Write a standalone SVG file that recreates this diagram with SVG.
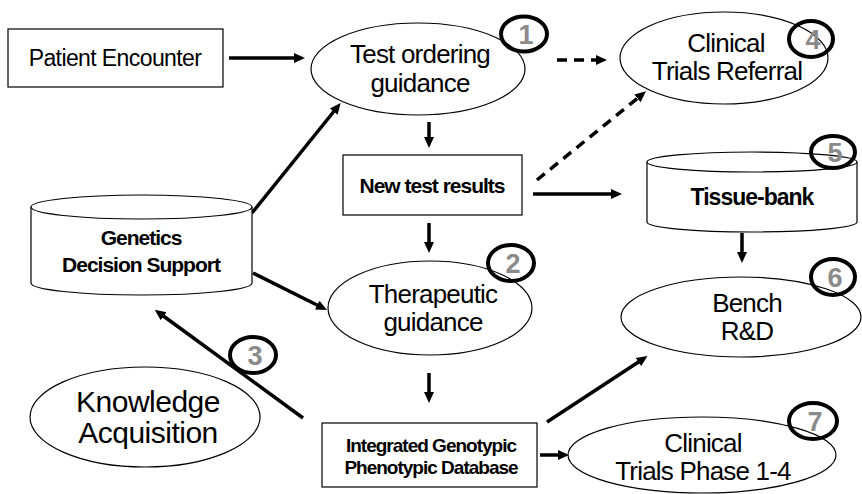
<svg xmlns="http://www.w3.org/2000/svg" width="862" height="494" viewBox="0 0 862 494">
  <style>
    .shape { fill: #ffffff; stroke: #000000; stroke-width: 1.2; }
    .lbl { font-family: "Liberation Sans", Arial, sans-serif; fill: #000000; text-anchor: middle; }
    .big { font-size: 26px; letter-spacing: -0.8px; }
    .bold { font-weight: bold; letter-spacing: -1px; }
    .edge { stroke: #000000; stroke-width: 3.5; fill: none; marker-end: url(#head); }
    .dash { stroke-dasharray: 10 7; }
    .badge ellipse { fill: none; stroke: #000000; stroke-width: 4; }
    .badge text { font-family: "Liberation Sans", Arial, sans-serif; font-weight: bold; font-size: 27px; fill: #8a8a8a; text-anchor: middle; }
  </style>
  <defs>
    <marker id="head" markerUnits="userSpaceOnUse" markerWidth="12" markerHeight="12" viewBox="0 0 12 12" refX="2" refY="6" orient="auto">
      <path d="M0,1 L11,6 L0,11 z" fill="#000000"/>
    </marker>
  </defs>
  <rect width="862" height="494" fill="#ffffff"/>

  <!-- connectors -->
  <g id="connectors">
    <line class="edge" x1="229" y1="58" x2="296" y2="58"/>
    <line class="edge dash" x1="557" y1="60" x2="598" y2="60"/>
    <line class="edge" x1="429" y1="122" x2="429" y2="139"/>
    <line class="edge dash" x1="537" y1="180" x2="639" y2="97"/>
    <line class="edge" x1="533" y1="194" x2="613" y2="194"/>
    <line class="edge" x1="742" y1="233" x2="742" y2="254"/>
    <line class="edge" x1="252" y1="213" x2="335" y2="110"/>
    <line class="edge" x1="253" y1="273" x2="319" y2="306"/>
    <line class="edge" x1="429" y1="223" x2="429" y2="244"/>
    <line class="edge" x1="429" y1="373" x2="429" y2="394"/>
    <line class="edge" x1="540" y1="455" x2="560" y2="455"/>
    <line class="edge" x1="547" y1="422" x2="640" y2="361"/>
    <line class="edge" x1="303" y1="418" x2="162" y2="315"/>
  </g>

  <g id="patient-encounter">
    <rect class="shape" x="8" y="29" width="215" height="58"/>
    <text class="lbl" x="115" y="66" font-size="23" letter-spacing="-0.6">Patient Encounter</text>
  </g>

  <g id="test-ordering">
    <ellipse class="shape" cx="418" cy="69" rx="107" ry="46"/>
    <text class="lbl big" x="420" y="63">Test ordering</text>
    <text class="lbl big" x="420" y="92">guidance</text>
  </g>

  <g id="clinical-trials-referral">
    <ellipse class="shape" cx="724" cy="58" rx="104" ry="46"/>
    <text class="lbl big" x="726" y="52">Clinical</text>
    <text class="lbl big" x="727" y="80">Trials Referral</text>
  </g>

  <g id="new-test-results">
    <rect class="shape" x="343" y="155" width="179" height="60"/>
    <text class="lbl bold" x="432" y="193" font-size="21">New test results</text>
  </g>

  <g id="tissue-bank">
    <path class="shape" d="M647,162 L647,222 A105,10 0 0 0 857,222 L857,162"/>
    <ellipse class="shape" cx="752" cy="162" rx="105" ry="10"/>
    <text class="lbl bold" x="752" y="205" font-size="23">Tissue-bank</text>
  </g>

  <g id="genetics-decision-support">
    <path class="shape" d="M31,207 L31,283 A110.5,12 0 0 0 252,283 L252,207"/>
    <ellipse class="shape" cx="141.5" cy="207" rx="110.5" ry="12"/>
    <text class="lbl bold" x="141" y="245" font-size="21">Genetics</text>
    <text class="lbl bold" x="141" y="272" font-size="21">Decision Support</text>
  </g>

  <g id="therapeutic-guidance">
    <ellipse class="shape" cx="430" cy="308" rx="102" ry="47"/>
    <text class="lbl big" x="433" y="303">Therapeutic</text>
    <text class="lbl big" x="433" y="331">guidance</text>
  </g>

  <g id="bench-rd">
    <ellipse class="shape" cx="741" cy="317" rx="120" ry="40"/>
    <text class="lbl big" x="747" y="312">Bench</text>
    <text class="lbl big" x="747" y="340">R&amp;D</text>
  </g>

  <g id="knowledge-acquisition">
    <ellipse class="shape" cx="145" cy="417" rx="115" ry="50"/>
    <text class="lbl" x="148" y="412" font-size="30" letter-spacing="-0.5">Knowledge</text>
    <text class="lbl" x="148" y="443" font-size="30" letter-spacing="-0.5">Acquisition</text>
  </g>

  <g id="integrated-database">
    <rect class="shape" x="322" y="423" width="215" height="64"/>
    <text class="lbl bold" x="431" y="452" font-size="19">Integrated Genotypic</text>
    <text class="lbl bold" x="431" y="474" font-size="19">Phenotypic Database</text>
  </g>

  <g id="clinical-trials-phase">
    <ellipse class="shape" cx="702" cy="455" rx="134" ry="38"/>
    <text class="lbl big" x="703" y="452">Clinical</text>
    <text class="lbl big" x="703" y="480">Trials Phase 1-4</text>
  </g>

  <!-- numbered markers -->
  <g id="badge-1" class="badge">
    <ellipse cx="524" cy="34" rx="23" ry="17.5"/>
    <text x="526" y="44">1</text>
  </g>
  <g id="badge-2" class="badge">
    <ellipse cx="511" cy="263" rx="23" ry="18"/>
    <text x="513" y="273">2</text>
  </g>
  <g id="badge-3" class="badge">
    <ellipse cx="253" cy="355" rx="23" ry="18" style="fill:#ffffff"/>
    <text x="255" y="365">3</text>
  </g>
  <g id="badge-4" class="badge">
    <ellipse cx="811" cy="39" rx="22" ry="18"/>
    <text x="813" y="49">4</text>
  </g>
  <g id="badge-5" class="badge">
    <ellipse cx="833" cy="152" rx="22" ry="16"/>
    <text x="835" y="162">5</text>
  </g>
  <g id="badge-6" class="badge">
    <ellipse cx="833" cy="277" rx="22" ry="18"/>
    <text x="835" y="287">6</text>
  </g>
  <g id="badge-7" class="badge">
    <ellipse cx="813" cy="421" rx="24" ry="18"/>
    <text x="815" y="431">7</text>
  </g>
</svg>
